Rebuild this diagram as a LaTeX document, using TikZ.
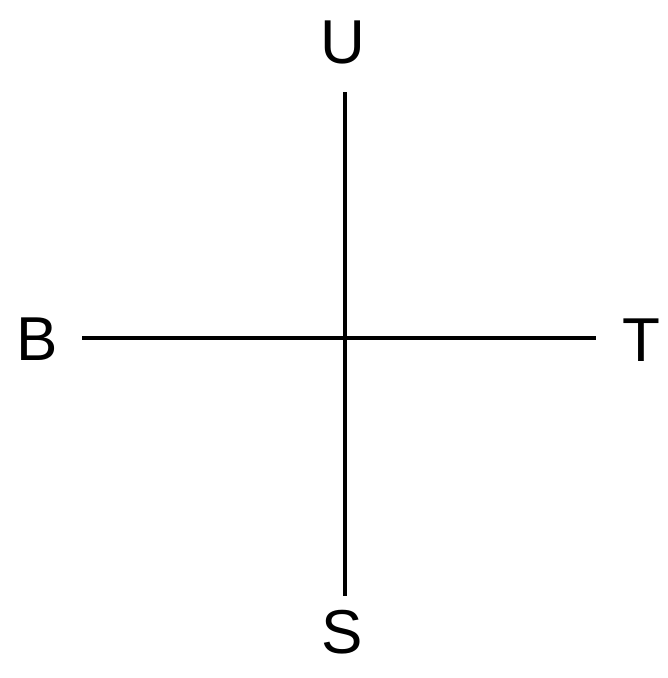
\documentclass[tikz,border=0pt]{standalone}
\usepackage{fontspec}
\setmainfont{Liberation Sans}
\begin{document}
\begin{tikzpicture}[x=1pt,y=-1pt,
  axis/.style={line width=4pt},
  lbl/.style={font=\fontsize{62}{62}\selectfont, inner sep=0pt, anchor=center}]
\useasboundingbox (0,0) rectangle (668,678);
\node[lbl] (U) at (343,42) {U};
\node[lbl] (S) at (342,632) {S};
\node[lbl] (B) at (37,339) {B};
\node[lbl] (T) at (641,340) {T};
\coordinate (top) at (345,92);
\coordinate (bot) at (345,596);
\coordinate (left) at (82,338);
\coordinate (right) at (596,338);
\draw[axis] (top) -- (bot);
\draw[axis] (left) -- (right);
\end{tikzpicture}
\end{document}
